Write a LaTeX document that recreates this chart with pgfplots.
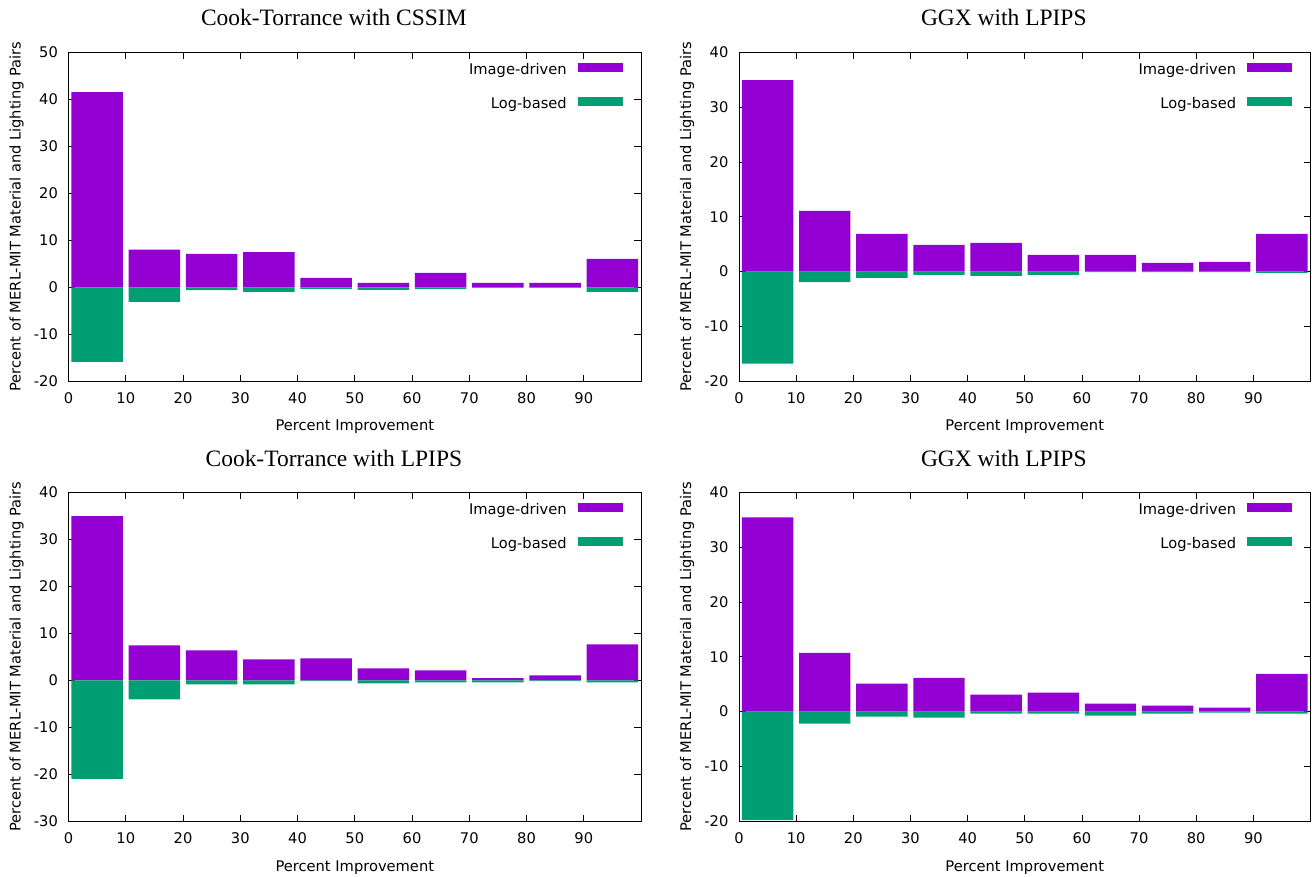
\documentclass[border=0pt]{standalone}
\usepackage{fontspec}
\setmainfont{DejaVu Sans}
\newfontfamily\titlefont{Liberation Serif}
\usepackage{pgfplots}
\usepackage{pgfplotstable}
\pgfplotsset{compat=1.18}

\definecolor{gppurple}{HTML}{9400D3}
\definecolor{gpgreen}{HTML}{009E73}
\newcommand\gpfont{\fontsize{11}{13}\selectfont}

% bin centre, image-driven, log-based
\pgfplotstableread{
x  img   log
5  41.5  -15.9
15 8.0   -3.1
25 7.1   -0.6
35 7.5   -1.0
45 2.0   -0.35
55 0.93  -0.57
65 3.06  -0.35
75 0.93  -0.14
85 0.93  -0.14
95 6.05  -1.0
}\ctcssim

\pgfplotstableread{
x  img   log
5  34.9  -16.8
15 11.06 -1.9
25 6.87  -1.15
35 4.86  -0.6
45 5.23  -0.8
55 3.04  -0.6
65 3.04  -0.1
75 1.58  -0.1
85 1.76  -0.1
95 6.87  -0.25
}\ggxa

\pgfplotstableread{
x  img   log
5  34.9  -21.0
15 7.45  -4.04
25 6.38  -0.85
35 4.47  -0.85
45 4.68  -0.2
55 2.55  -0.64
65 2.13  -0.43
75 0.43  -0.43
85 1.06  -0.2
95 7.66  -0.43
}\ctlpips

\pgfplotstableread{
x  img   log
5  35.4  -19.8
15 10.7  -2.2
25 5.08  -0.9
35 6.16  -1.09
45 3.08  -0.36
55 3.44  -0.36
65 1.45  -0.73
75 1.09  -0.36
85 0.73  -0.18
95 6.89  -0.36
}\ggxb

\pgfplotsset{
  gp/.style={
    scale only axis, width=429.4pt, height=246.75pt,
    xmin=0, xmax=100,
    xtick={0,10,...,90}, xticklabels={0,10,20,30,40,50,60,70,80,90},
    tick align=inside, major tick length=5pt,
    every tick/.style={black, line width=0.5pt},
    axis line style={line width=0.75pt},
    tick label style={font=\gpfont},
    xticklabel style={anchor=base, yshift=-17pt},
    yticklabel style={anchor=east, inner sep=0pt, xshift=-7.8pt},
    xlabel={Percent Improvement},
    ylabel={Percent of MERL-MIT Material and Lighting Pairs},
    label style={font=\gpfont},
    xlabel style={at={(axis description cs:0.5,0)}, anchor=base, yshift=-37.3pt},
    ylabel style={at={([xshift=-35.9pt]axis description cs:0,0.5)}, anchor=base},
    title style={font=\titlefont\fontsize{17.6}{20}\selectfont, at={(axis description cs:0.5,1)}, anchor=base, yshift=13.7pt, xshift=-15.7pt},
    legend style={draw=none, fill=none, inner sep=0pt, outer sep=0pt,
      at={(axis description cs:1,1)}, anchor=north east, xshift=-13.5pt, yshift=-8.25pt,
      font=\gpfont, column sep=8.25pt, row sep=14.25pt,
      nodes={inner sep=0pt, text height=8pt, text depth=2.5pt}},
    legend cell align=right, legend plot pos=right,
  },
  gpbar/.style={ybar, bar width=9, bar shift=0pt, draw=none, fill=#1,
    legend image code/.code={\fill[##1] (0pt,-0.5pt) rectangle (34pt,6pt);}},
}

\begin{document}
\begin{tikzpicture}
\useasboundingbox (0,0) rectangle (984pt,657.75pt);

\begin{axis}[gp, at={(51.4pt,371.8pt)}, anchor=south west,
    title={Cook-Torrance with CSSIM},
    ymin=-20, ymax=50, ytick={-20,-10,...,50},
    yticklabels={-20,-10,0,10,20,30,40,50}]
  \addplot[gpbar=gppurple] table[x=x, y=img] {\ctcssim};
  \addlegendentry{Image-driven}
  \addplot[gpbar=gpgreen] table[x=x, y=log] {\ctcssim};
  \addlegendentry{Log-based}
\end{axis}

\begin{axis}[gp, at={(554.25pt,371.8pt)}, anchor=south west, width=428.6pt,
    title={GGX with LPIPS},
    ymin=-20, ymax=40, ytick={-20,-10,...,40},
    yticklabels={-20,-10,0,10,20,30,40}]
  \addplot[gpbar=gppurple] table[x=x, y=img] {\ggxa};
  \addlegendentry{Image-driven}
  \addplot[gpbar=gpgreen] table[x=x, y=log] {\ggxa};
  \addlegendentry{Log-based}
\end{axis}

\begin{axis}[gp, at={(51.4pt,41.8pt)}, anchor=south west,
    title={Cook-Torrance with LPIPS},
    ymin=-30, ymax=40, ytick={-30,-20,...,40},
    yticklabels={-30,-20,-10,0,10,20,30,40}]
  \addplot[gpbar=gppurple] table[x=x, y=img] {\ctlpips};
  \addlegendentry{Image-driven}
  \addplot[gpbar=gpgreen] table[x=x, y=log] {\ctlpips};
  \addlegendentry{Log-based}
\end{axis}

\begin{axis}[gp, at={(554.25pt,41.8pt)}, anchor=south west, width=428.6pt,
    title={GGX with LPIPS},
    ymin=-20, ymax=40, ytick={-20,-10,...,40},
    yticklabels={-20,-10,0,10,20,30,40}]
  \addplot[gpbar=gppurple] table[x=x, y=img] {\ggxb};
  \addlegendentry{Image-driven}
  \addplot[gpbar=gpgreen] table[x=x, y=log] {\ggxb};
  \addlegendentry{Log-based}
\end{axis}
\end{tikzpicture}
\end{document}
